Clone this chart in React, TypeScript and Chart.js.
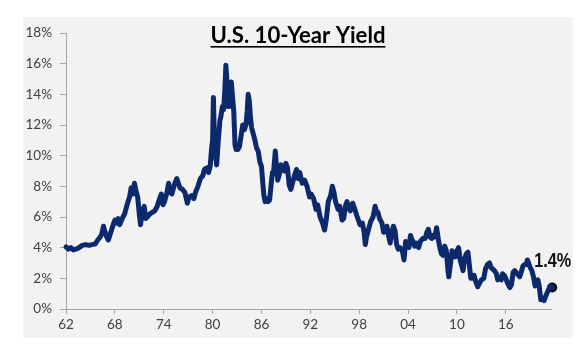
import React, { useEffect, useRef } from "react";
import { Chart, registerables } from "chart.js";

Chart.register(...registerables);

const TITLE = "U.S. 10-Year Yield";
const LAST_LABEL = "1.4%";

const yearTicks = [1962, 1968, 1974, 1980, 1986, 1992, 1998, 2004, 2010, 2016];
const yTicks = [0, 2, 4, 6, 8, 10, 12, 14, 16, 18];

const dates = [
  1962.0, 1962.3, 1962.6, 1962.9, 1963.2, 1963.6, 1964.0, 1964.4, 1964.8, 1965.2,
  1965.6, 1965.9, 1966.2, 1966.4, 1966.6, 1966.8, 1967.0, 1967.2, 1967.5, 1967.8,
  1968.0, 1968.2, 1968.4, 1968.6, 1968.9, 1969.2, 1969.5, 1969.8, 1970.0, 1970.2,
  1970.4, 1970.6, 1970.8, 1971.0, 1971.15, 1971.4, 1971.6, 1971.8, 1972.0, 1972.3,
  1972.6, 1972.9, 1973.2, 1973.5, 1973.7, 1973.9, 1974.1, 1974.4, 1974.6, 1974.8,
  1975.0, 1975.3, 1975.6, 1975.8, 1976.0, 1976.3, 1976.6, 1976.9, 1977.1, 1977.4,
  1977.7, 1977.9, 1978.2, 1978.5, 1978.8, 1979.0, 1979.3, 1979.5, 1979.7, 1979.9,
  1980.0, 1980.1, 1980.2, 1980.4, 1980.5, 1980.7, 1980.9, 1981.0, 1981.2, 1981.35,
  1981.5, 1981.63, 1981.75, 1981.9, 1982.0, 1982.1, 1982.3, 1982.45, 1982.6, 1982.75,
  1982.9, 1983.1, 1983.3, 1983.5, 1983.7, 1983.9, 1984.1, 1984.25, 1984.37, 1984.5,
  1984.65, 1984.8, 1985.0, 1985.2, 1985.4, 1985.6, 1985.8, 1986.0, 1986.15, 1986.3,
  1986.45, 1986.6, 1986.8, 1987.0, 1987.2, 1987.35, 1987.5, 1987.7, 1987.8, 1988.0,
  1988.2, 1988.4, 1988.6, 1988.8, 1989.0, 1989.2, 1989.4, 1989.6, 1989.8, 1990.0,
  1990.3, 1990.5, 1990.7, 1991.0, 1991.3, 1991.6, 1991.9, 1992.1, 1992.4, 1992.7,
  1992.9, 1993.2, 1993.5, 1993.75, 1993.95, 1994.2, 1994.5, 1994.7, 1994.9, 1995.1,
  1995.4, 1995.6, 1995.9, 1996.1, 1996.3, 1996.5, 1996.7, 1996.9, 1997.2, 1997.4,
  1997.7, 1997.9, 1998.1, 1998.4, 1998.6, 1998.75, 1998.9, 1999.1, 1999.4, 1999.7,
  1999.95, 2000.1, 2000.3, 2000.5, 2000.8, 2001.0, 2001.2, 2001.4, 2001.6, 2001.8,
  2002.0, 2002.2, 2002.4, 2002.6, 2002.8, 2003.0, 2003.3, 2003.5, 2003.7, 2003.9,
  2004.1, 2004.3, 2004.5, 2004.8, 2005.0, 2005.3, 2005.5, 2005.8, 2006.1, 2006.3,
  2006.5, 2006.7, 2006.9, 2007.1, 2007.3, 2007.5, 2007.7, 2007.9, 2008.1, 2008.3,
  2008.5, 2008.7, 2008.9, 2009.0, 2009.2, 2009.4, 2009.6, 2009.8, 2010.0, 2010.2,
  2010.4, 2010.6, 2010.75, 2010.95, 2011.15, 2011.35, 2011.5, 2011.7, 2011.9, 2012.1,
  2012.3, 2012.55, 2012.8, 2013.0, 2013.3, 2013.5, 2013.75, 2014.0, 2014.2, 2014.4,
  2014.6, 2014.85, 2015.0, 2015.2, 2015.45, 2015.6, 2015.8, 2016.0, 2016.2, 2016.5,
  2016.7, 2016.9, 2017.1, 2017.4, 2017.7, 2017.9, 2018.1, 2018.3, 2018.5, 2018.65,
  2018.8, 2019.0, 2019.2, 2019.4, 2019.6, 2019.8, 2019.95, 2020.1, 2020.3, 2020.5,
  2020.7, 2020.95, 2021.2, 2021.45, 2021.7,
];

const yields = [
  4.05, 3.9, 4.0, 3.85, 3.9, 4.0, 4.15, 4.2, 4.15, 4.2,
  4.25, 4.5, 4.7, 4.9, 5.4, 5.0, 4.7, 4.5, 5.0, 5.5,
  5.8, 5.6, 5.9, 5.5, 5.9, 6.2, 6.8, 7.3, 7.9, 7.5,
  8.2, 7.7, 7.3, 6.2, 5.5, 6.4, 6.7, 5.9, 6.0, 6.2,
  6.3, 6.4, 6.7, 7.2, 7.5, 6.8, 7.0, 7.6, 8.2, 7.6,
  7.5, 8.1, 8.5, 8.2, 7.9, 7.8, 7.6, 6.9, 7.3, 7.4,
  7.2, 7.6, 8.0, 8.5, 8.7, 9.1, 9.2, 8.9, 9.3, 10.6,
  11.0, 13.8, 11.5, 9.8, 9.4, 11.0, 12.3, 12.5, 13.2, 13.0,
  14.2, 15.9, 15.0, 13.2, 13.8, 14.2, 14.8, 13.8, 12.9, 10.7,
  10.4, 10.4, 10.6, 11.3, 12.0, 11.7, 12.0, 12.9, 14.0, 13.6,
  12.5, 11.8, 11.4, 11.0, 10.5, 10.3, 9.6, 9.3, 8.3, 7.4,
  7.0, 7.2, 7.0, 7.1, 8.2, 8.9, 9.0, 10.3, 9.6, 8.4,
  8.8, 9.4, 9.1, 9.0, 9.5, 9.2, 8.1, 7.8, 8.2, 8.6,
  9.1, 8.5, 8.9, 8.2, 8.4, 8.0, 7.3, 7.5, 7.2, 6.5,
  6.8, 6.0, 5.6, 5.15, 5.8, 7.0, 7.4, 8.0, 7.6, 7.0,
  6.5, 6.7, 5.8, 5.9, 6.7, 7.0, 6.6, 6.4, 6.9, 6.6,
  6.1, 5.8, 5.5, 5.6, 5.0, 4.2, 4.7, 5.1, 5.7, 6.0,
  6.7, 6.4, 6.3, 5.9, 5.6, 5.0, 5.1, 5.4, 4.8, 4.3,
  5.0, 5.4, 5.1, 4.2, 3.9, 4.0, 3.8, 3.2, 4.4, 4.2,
  4.0, 4.8, 4.5, 4.1, 4.3, 4.0, 4.4, 4.6, 4.6, 5.0,
  5.2, 4.7, 4.6, 4.8, 4.7, 5.3, 4.6, 4.0, 3.6, 3.5,
  4.1, 3.8, 2.5, 2.1, 2.9, 3.8, 3.5, 3.4, 3.8, 4.0,
  3.2, 2.8, 2.5, 3.3, 3.6, 3.7, 3.0, 2.0, 2.0, 2.2,
  1.8, 1.45, 1.7, 1.9, 2.0, 2.6, 2.9, 3.0, 2.7, 2.6,
  2.5, 2.3, 1.9, 2.1, 1.9, 2.3, 2.2, 2.0, 1.7, 1.4,
  1.6, 2.4, 2.5, 2.3, 2.1, 2.4, 2.8, 2.9, 2.9, 3.2,
  3.0, 2.7, 2.5, 2.1, 1.5, 1.8, 1.9, 1.5, 0.6, 0.7,
  0.55, 0.9, 1.2, 1.5, 1.4,
];

const lastDate = dates[dates.length - 1];
const lastYield = yields[yields.length - 1];

export default function App() {
  const ref = useRef<HTMLCanvasElement | null>(null);

  useEffect(() => {
    const canvas = ref.current;
    if (!canvas) return;

    const bgPlugin = {
      id: "bgPlugin",
      beforeDraw(chart: any) {
        const ctx = chart.ctx;
        ctx.save();
        ctx.fillStyle = "#ffffff";
        ctx.fillRect(0, 0, chart.width, chart.height);
        ctx.fillStyle = "#f2f2f2";
        ctx.fillRect(23, 17, 550, 321);
        ctx.restore();
      },
      afterDraw(chart: any) {
        const ctx = chart.ctx;
        ctx.save();
        // Title
        let size = 22;
        ctx.font = `bold ${size}px Lato, "Open Sans", sans-serif`;
        const w0 = ctx.measureText(TITLE).width;
        size = Math.max(18, Math.min(25, (size * 175) / w0));
        ctx.font = `bold ${size}px Lato, "Open Sans", sans-serif`;
        const w = ctx.measureText(TITLE).width;
        const cx = 298;
        const base = 43;
        ctx.fillStyle = "#000000";
        ctx.textAlign = "left";
        ctx.textBaseline = "alphabetic";
        ctx.fillText(TITLE, cx - w / 2, base);
        ctx.fillRect(cx - w / 2, base + 3, w, 1.6);
        ctx.restore();

        // Last value label (condensed bold)
        const xs = chart.scales.x;
        const ys = chart.scales.y;
        const px = xs.getPixelForValue(lastDate);
        const py = ys.getPixelForValue(lastYield);
        ctx.save();
        ctx.font = `bold 20px "Liberation Sans", Arial, sans-serif`;
        const lw = ctx.measureText(LAST_LABEL).width;
        const sx = 37 / lw;
        const right = px + 19;
        ctx.translate(right - 37, py - 21);
        ctx.scale(sx, 1);
        ctx.textAlign = "left";
        ctx.textBaseline = "alphabetic";
        ctx.fillStyle = "#111111";
        ctx.fillText(LAST_LABEL, 0, 0);
        ctx.restore();
      },
    };

    const chart = new Chart(canvas, {
      type: "line",
      data: {
        datasets: [
          {
            data: dates.map((d, i) => ({ x: d, y: yields[i] })),
            borderColor: "#0c2a6b",
            borderWidth: 5,
            pointRadius: 0,
            tension: 0,
            borderJoinStyle: "round",
            borderCapStyle: "round",
            clip: false,
          } as any,
          {
            data: [{ x: lastDate, y: lastYield }],
            showLine: false,
            pointRadius: 5,
            pointBackgroundColor: "#000000",
            pointBorderColor: "#000000",
            pointBorderWidth: 0,
            clip: false,
          } as any,
        ],
      },
      options: {
        animation: false,
        responsive: false,
        devicePixelRatio: 1,
        layout: { padding: { left: 0, right: 37, top: 33, bottom: 0 } },
        plugins: {
          legend: { display: false },
          tooltip: { enabled: false },
          title: { display: false },
        },
        scales: {
          x: {
            type: "linear",
            min: 1962,
            max: 2021.55,
            afterBuildTicks: (axis: any) => {
              axis.ticks = yearTicks.map((v) => ({ value: v }));
            },
            afterFit: (axis: any) => {
              axis.height = 50;
            },
            ticks: {
              autoSkip: false,
              maxRotation: 0,
              padding: 3,
              color: "#404040",
              font: { family: "Lato, sans-serif", size: 13.5 },
              callback: (v: any) => String(Number(v) % 100).padStart(2, "0"),
            },
            grid: {
              display: true,
              drawOnChartArea: false,
              drawTicks: true,
              tickLength: 5,
              color: "#a6a6a6",
            },
            border: { display: true, color: "#a6a6a6", width: 1 },
          },
          y: {
            min: 0,
            max: 18,
            afterBuildTicks: (axis: any) => {
              axis.ticks = yTicks.map((v) => ({ value: v }));
            },
            afterFit: (axis: any) => {
              axis.width = 66;
            },
            ticks: {
              padding: 8,
              color: "#404040",
              font: { family: "Lato, sans-serif", size: 13.5 },
              callback: (v: any) => `${v}%`,
            },
            grid: {
              display: true,
              drawOnChartArea: false,
              drawTicks: true,
              tickLength: 6,
              color: "#a6a6a6",
            },
            border: { display: true, color: "#a6a6a6", width: 1 },
          },
        },
      },
      plugins: [bgPlugin],
    } as any);

    return () => chart.destroy();
  }, []);

  return (
    <div style={{ position: "absolute", left: 0, top: 0, width: 588, height: 359 }}>
      <canvas ref={ref} width={588} height={359} style={{ display: "block" }} />
    </div>
  );
}
